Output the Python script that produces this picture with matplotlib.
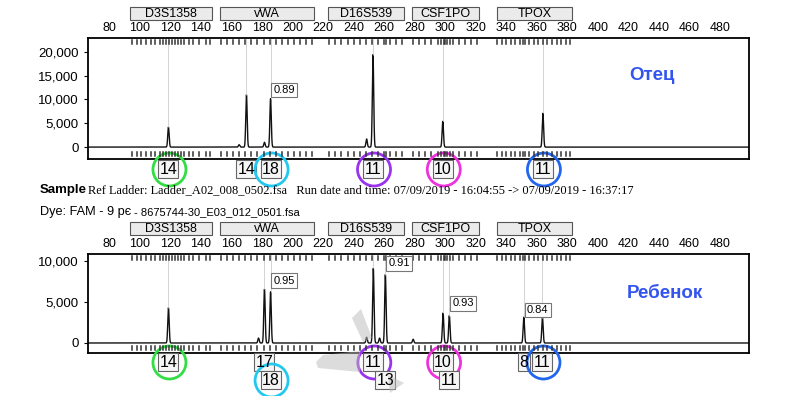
import numpy as np
import matplotlib
matplotlib.use('Agg')
import matplotlib.pyplot as plt
import matplotlib.patches as patches

plt.rcParams['font.family'] = ['Liberation Sans', 'DejaVu Sans']

# loci headers (bp range)
loci = ['D3S1358', 'vWA', 'D16S539', 'CSF1PO', 'TPOX']
locus_start = [93.5, 152.5, 223, 278, 334]
locus_end = [147, 214, 273, 322, 383]

# bin markers (bp)
bins = [95, 98, 101, 104, 107, 110, 113, 115, 117, 119, 121, 123, 125, 127, 129, 132, 135, 139, 143, 146,
        153, 157, 161, 165, 169, 173, 177, 181, 185, 189, 193, 197, 201, 205, 209, 213,
        224, 228, 232, 236, 240, 244, 248, 252, 256, 260, 261, 264, 268, 272,
        279, 283, 287, 291, 295, 297, 299, 300, 301, 303, 305, 309, 313, 317, 321,
        334, 337, 340, 343, 346, 349, 351, 352, 355, 358, 361, 364, 367, 370, 373, 376, 379, 382]

# father (top)
father_x = [118.7, 165.0, 169.8, 181.6, 185.6, 248.5, 252.7, 298.4, 364.0]
father_h = [4200, 500, 11000, 1000, 10200, 1700, 19400, 5400, 7100]
father_calls_x = [118.7, 169.8, 185.6, 252.7, 298.4, 364.0]
father_calls = ['14', '14', '18', '11', '10', '11']
father_circle = ['#33dd44', None, '#22c8f0', '#9933ee', '#ee33dd', '#2266ee']
father_ratio_x = [185.6]
father_ratio = ['0.89']

# child (bottom)
child_x = [118.7, 177.7, 181.6, 185.6, 248.5, 252.9, 257.0, 260.8, 279.0, 298.6, 302.7, 351.5, 363.7]
child_h = [4300, 600, 6550, 6250, 700, 9100, 600, 8350, 450, 3650, 3350, 3150, 3100]
child_calls_x = [118.7, 181.6, 185.6, 252.9, 260.8, 298.6, 302.7, 351.5, 363.7]
child_calls = ['14', '17', '18', '11', '13', '10', '11', '8', '11']
child_row = [0, 0, 1, 0, 1, 0, 1, 0, 0]
child_circle = ['#33dd44', None, '#22c8f0', '#9933ee', None, '#ee33dd', None, None, '#2266ee']
child_ratio_x = [185.6, 260.8, 302.7, 351.5]
child_ratio = ['0.95', '0.91', '0.93', '0.84']
child_ratio_y = [280.5, 263.5, 303.5, 310]

W, H = 800, 396
fig = plt.figure(figsize=(8, 3.96), dpi=100)


def rect(l, t, r, b):
    return [l / W, 1 - b / H, (r - l) / W, (b - t) / H]


ax1 = fig.add_axes(rect(88, 38, 749, 159))
ax2 = fig.add_axes(rect(88, 254, 749, 353))
over = fig.add_axes([0, 0, 1, 1])
over.set_xlim(0, W)
over.set_ylim(H, 0)
over.axis('off')

xs = np.linspace(66, 499, 8000)


def trace(px, ph):
    y = np.zeros_like(xs)
    for p, h in zip(px, ph):
        y += h * np.exp(-0.5 * ((xs - p) / 0.45) ** 2)
    return y


def setup(ax, px, ph, ylim, yticks, calls_x, calls_h):
    ax.plot(xs, trace(px, ph), color='#111111', lw=1.0)
    ax.set_xlim(66, 499)
    ax.set_ylim(*ylim)
    ax.vlines(calls_x, calls_h, ylim[1], color='#cccccc', lw=0.6)
    ax.xaxis.tick_top()
    ax.set_xticks(range(80, 481, 20))
    ax.tick_params(axis='x', length=0, pad=3, labelsize=9)
    ax.set_yticks(yticks)
    ax.set_yticklabels(['{:,}'.format(v) for v in yticks])
    ax.tick_params(axis='y', length=3, labelsize=9.5)
    for s in ax.spines.values():
        s.set_linewidth(1.3)


def heights(px, ph, cx):
    return [ph[px.index(c)] for c in cx]


setup(ax1, father_x, father_h, (-2500, 22900), [0, 5000, 10000, 15000, 20000],
      father_calls_x, heights(father_x, father_h, father_calls_x))
setup(ax2, child_x, child_h, (-1220, 10850), [0, 5000, 10000],
      child_calls_x, heights(child_x, child_h, child_calls_x))


def xpx(ax, v):
    return ax.transData.transform((v, 0))[0]


def headers(ax, top, bottom, box_y):
    for name, a, b in zip(loci, locus_start, locus_end):
        x0, x1 = xpx(ax, a), xpx(ax, b)
        over.add_patch(patches.Rectangle((x0, box_y), x1 - x0, 13, facecolor='#ebebeb',
                                         edgecolor='#555555', lw=0.8))
        over.text((x0 + x1) / 2, box_y + 6.8, name, ha='center', va='center', fontsize=9)
    for b in bins:
        x = xpx(ax, b)
        over.plot([x, x], [top + 2, top + 6], color='#333333', lw=1.1)
        over.plot([x, x], [bottom - 7, bottom - 3], color='#333333', lw=1.1)


headers(ax1, 38, 159, 7)
headers(ax2, 254, 353, 222)


def allele(x, y, label, color):
    w = 12 if len(label) == 1 else 20
    over.add_patch(patches.Rectangle((x - w / 2, y - 9), w, 18, facecolor='#f6f6f6',
                                     edgecolor='#666666', lw=0.8))
    over.text(x, y + 0.5, label, ha='center', va='center', fontsize=11.5)
    if color:
        over.add_patch(patches.Circle((x + 1, y + 0.5), 16.5, fill=False, lw=2, edgecolor=color))


for cx, lab, col in zip(father_calls_x, father_calls, father_circle):
    allele(xpx(ax1, cx), 169, lab, col)
for cx, lab, r, col in zip(child_calls_x, child_calls, child_row, child_circle):
    allele(xpx(ax2, cx), 362 + 18 * r, lab, col)


def ratio(x, y, label):
    over.text(x + 3, y, label, ha='left', va='center', fontsize=8,
              bbox=dict(boxstyle='square,pad=0.2', facecolor='white', edgecolor='#777777', lw=0.8))


for rx, lab in zip(father_ratio_x, father_ratio):
    ratio(xpx(ax1, rx), 90, lab)
for rx, lab, ry in zip(child_ratio_x, child_ratio, child_ratio_y):
    ratio(xpx(ax2, rx), ry, lab)

# watermark arrows
grey = dict(facecolor='#bbbbbb', edgecolor='none', alpha=0.5)
over.add_patch(patches.Polygon([(352, 318), (361, 309), (372, 338), (363, 342)], **grey))
over.add_patch(patches.Polygon([(316, 362), (323, 355), (360, 351), (360, 372), (318, 368)], **grey))
over.add_patch(patches.Polygon([(388, 375), (404, 383), (390, 393)], **grey))

over.text(652, 75, 'Отец', ha='center', va='center', fontsize=13.5, fontweight='bold', color='#3355ee')
over.text(665, 294, 'Ребенок', ha='center', va='center', fontsize=13.5, fontweight='bold', color='#3355ee')

over.text(40, 190, 'Sample', ha='left', va='center', fontsize=9.5, fontweight='bold')
over.text(88, 190, 'Ref Ladder: Ladder_A02_008_0502.fsa   Run date and time: 07/09/2019 - 16:04:55 -> 07/09/2019 - 16:37:17',
          ha='left', va='center', fontsize=8.9, family=['Liberation Serif', 'DejaVu Serif'])
over.text(40, 212, 'Dye: FAM - 9 pє', ha='left', va='center', fontsize=9.2)
over.text(134, 212, '- 8675744-30_E03_012_0501.fsa', ha='left', va='center', fontsize=8)

fig.savefig('out.png', dpi=100)
